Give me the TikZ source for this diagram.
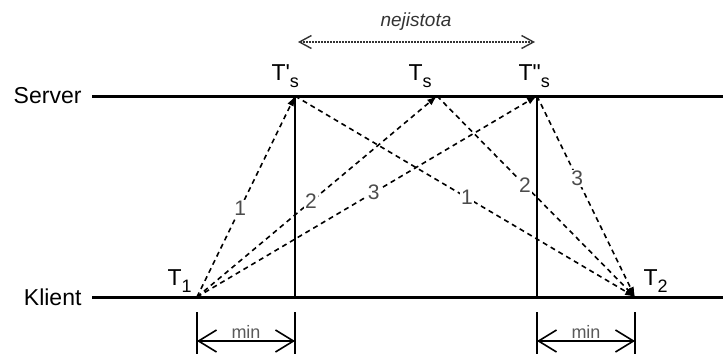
\documentclass[tikz,border=0pt]{standalone}
\usepackage{fontspec}
\setmainfont{Liberation Sans}[Ligatures=TeXOff]
\usetikzlibrary{arrows.meta}
\newcommand{\lowsub}[1]{\raisebox{-7pt}{\fontsize{18}{20}\selectfont #1}}
\begin{document}
\begin{tikzpicture}[x=1pt,y=-1pt,
  axis/.style={line width=3pt},
  tick/.style={line width=1.6pt},
  msg/.style={dashed,dash pattern=on 5pt off 4pt,line width=1.6pt,-{Latex[length=10pt,width=7pt]}},
  num/.style={fill=white,inner sep=1pt,text=black!70,font=\fontsize{21}{24}\selectfont},
  tlab/.style={font=\fontsize{23}{27}\selectfont},
  side/.style={font=\fontsize{23}{27}\selectfont,anchor=east},
  minarr/.style={line width=1.6pt,{Straight Barb[length=18pt,width=22pt]}-{Straight Barb[length=18pt,width=22pt]}},
  minlab/.style={text=black!65,font=\fontsize{18}{20}\selectfont},
  unc/.style={line width=1.4pt,black!80,dash pattern=on 1.6pt off 1.4pt,{Straight Barb[length=12pt,width=13pt]}-{Straight Barb[length=12pt,width=13pt]}}]
\useasboundingbox (0,0) rectangle (723,354);
% axes
\coordinate (sL) at (92,96);
\coordinate (sR) at (723,96);
\coordinate (kL) at (92,297);
\coordinate (kR) at (723,297);
\draw[axis] (sL) -- (sR);
\draw[axis] (kL) -- (kR);
\node[side] (server) at (85,96) {Server};
\node[side] (klient) at (85,297) {Klient};
% event points
\coordinate (T1) at (197,297);
\coordinate (Tsp) at (295,96);
\coordinate (Ts) at (437,96);
\coordinate (Tspp) at (537,96);
\coordinate (T2) at (635,297);
\coordinate (Tspb) at (295,297);
\coordinate (Tsppb) at (537,297);
% labels
\node[tlab,anchor=base west] (lT1) at (164,285) {T\lowsub{1}};
\node[tlab,anchor=base west] (lT2) at (640,285) {T\lowsub{2}};
\node[tlab,anchor=base west] (lTsp) at (268,80) {T'\lowsub{s}};
\node[tlab,anchor=base west] (lTs) at (405,80) {T\lowsub{s}};
\node[tlab,anchor=base west] (lTspp) at (515,80) {T"\lowsub{s}};
% vertical solid lines
\draw[tick] (Tsp) -- (Tspb);
\draw[tick] (Tspp) -- (Tsppb);
% messages
\draw[msg] (T1) -- node[num,pos=0.44] {1} (Tsp);
\draw[msg] (T1) -- node[num,pos=0.475] {2} (Ts);
\draw[msg] (T1) -- node[num,pos=0.52] {3} (Tspp);
\draw[msg] (Tsp) -- node[num,pos=0.506] {1} (T2);
\draw[msg] (Ts) -- node[num,pos=0.444] {2} (T2);
\draw[msg] (Tspp) -- node[num,pos=0.41] {3} (T2);
% uncertainty
\coordinate (uL) at (298,42);
\coordinate (uR) at (535,42);
\draw[unc] (uL) -- (uR);
\node[font=\fontsize{19}{22}\selectfont\itshape,text=black!80] (nej) at (416,22) {nejistota};
% min intervals
\coordinate (m1a) at (197,312);
\coordinate (m1b) at (197,354);
\coordinate (m2a) at (295,312);
\coordinate (m2b) at (295,354);
\coordinate (m3a) at (537,312);
\coordinate (m3b) at (537,354);
\coordinate (m4a) at (635,312);
\coordinate (m4b) at (635,354);
\draw[tick] (m1a) -- (m1b);
\draw[tick] (m2a) -- (m2b);
\draw[tick] (m3a) -- (m3b);
\draw[tick] (m4a) -- (m4b);
\coordinate (a1) at (197,341);
\coordinate (a2) at (295,341);
\coordinate (a3) at (537,341);
\coordinate (a4) at (635,341);
\draw[minarr] (a1) -- (a2);
\draw[minarr] (a3) -- (a4);
\node[minlab] (min1) at (246,332) {min};
\node[minlab] (min2) at (586,332) {min};
\end{tikzpicture}
\end{document}
